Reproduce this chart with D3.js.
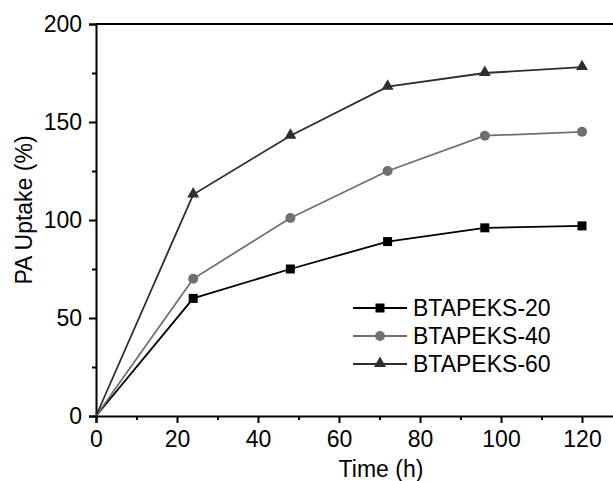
<!DOCTYPE html>
<meta charset="utf-8">
<style>
  body { margin: 0; background: #fff; }
  text { font-family: "Liberation Sans", Arial, sans-serif; }
</style>
<script src="https://d3js.org/d3.v7.min.js"></script>
<div id="chart"></div>
<script>
// Data
var hours = [0, 24, 48, 72, 96, 120];
var btapeks20 = [0, 60, 75, 89, 96, 97];
var btapeks40 = [0, 70, 101, 125, 143, 145];
var btapeks60 = [0, 113, 143, 168, 175, 178];
var seriesNames = ["BTAPEKS-20", "BTAPEKS-40", "BTAPEKS-60"];
var xTicks = [0, 20, 40, 60, 80, 100, 120];
var xMinor = [10, 30, 50, 70, 90, 110, 130];
var yTicks = [0, 50, 100, 150, 200];
var yMinor = [25, 75, 125, 175];

var W = 613, H = 481;
var plotLeft = 96, plotTop = 24, plotBottom = 416;
var fs = 23;

var svg = d3.select("#chart").append("svg")
  .attr("width", W).attr("height", H);

var x = d3.scaleLinear().domain([0, 130]).range([plotLeft, plotLeft + 130 * 4.05]);
var y = d3.scaleLinear().domain([0, 200]).range([plotBottom, plotTop]);

// top frame line
svg.append("line")
  .attr("x1", plotLeft).attr("x2", W + 5)
  .attr("y1", plotTop).attr("y2", plotTop)
  .attr("stroke", "#000").attr("stroke-width", 2);

// x axis
var gx = svg.append("g").attr("transform", "translate(0," + plotBottom + ")");
gx.call(d3.axisBottom(x).tickValues(xTicks).tickSize(7).tickPadding(8).tickFormat(d3.format("d")));
gx.append("g").call(d3.axisBottom(x).tickValues(xMinor).tickSize(4).tickFormat(""))
  .select(".domain").remove();

// y axis
var gy = svg.append("g").attr("transform", "translate(" + plotLeft + ",0)");
gy.call(d3.axisLeft(y).tickValues(yTicks).tickSize(7).tickPadding(7));
gy.append("g").call(d3.axisLeft(y).tickValues(yMinor).tickSize(4).tickFormat(""))
  .select(".domain").remove();

svg.selectAll(".domain").attr("stroke", "#000").attr("stroke-width", 2);
svg.selectAll(".tick line").attr("stroke", "#000").attr("stroke-width", 2);
svg.selectAll(".tick text").attr("font-size", fs).attr("fill", "#000")
  .attr("font-family", "Liberation Sans, Arial, sans-serif");

// axis titles
svg.append("text")
  .attr("x", 381).attr("y", 477)
  .attr("text-anchor", "middle").attr("font-size", fs)
  .text("Time (h)");
svg.append("text")
  .attr("transform", "translate(32,210) rotate(-90)")
  .attr("text-anchor", "middle").attr("font-size", fs)
  .text("PA Uptake (%)");

var series = [
  {name: seriesNames[0], values: btapeks20, color: "#000000", marker: "square"},
  {name: seriesNames[1], values: btapeks40, color: "#6f6f6f", marker: "circle"},
  {name: seriesNames[2], values: btapeks60, color: "#2e2e2e", marker: "triangle"}
];

var line = d3.line().x(d => x(d[0])).y(d => y(d[1]));

function drawMarker(g, type, cx, cy, color) {
  if (type === "square") {
    g.append("rect").attr("x", cx - 4.5).attr("y", cy - 4.5)
      .attr("width", 9).attr("height", 9).attr("fill", color);
  } else if (type === "circle") {
    g.append("circle").attr("cx", cx).attr("cy", cy).attr("r", 5).attr("fill", color);
  } else {
    g.append("path")
      .attr("d", d3.symbol().type(d3.symbolTriangle).size(62)())
      .attr("transform", "translate(" + cx + "," + (cy - 0.5) + ")")
      .attr("fill", color);
  }
}

series.forEach(function(s) {
  var pts = hours.map((h, i) => [h, s.values[i]]);
  svg.append("path").datum(pts)
    .attr("fill", "none").attr("stroke", s.color).attr("stroke-width", 1.8)
    .attr("d", line);
  var g = svg.append("g");
  pts.forEach(function(p, i) {
    if (i === 0) return;
    drawMarker(g, s.marker, x(p[0]), y(p[1]), s.color);
  });
});

// legend
var legend = svg.append("g");
series.forEach(function(s, i) {
  var ly = 308 + i * 28;
  legend.append("line")
    .attr("x1", 353).attr("x2", 407).attr("y1", ly).attr("y2", ly)
    .attr("stroke", s.color).attr("stroke-width", 1.8);
  drawMarker(legend, s.marker, 380, ly, s.color);
  legend.append("text")
    .attr("x", 413).attr("y", ly + 8)
    .attr("font-size", fs)
    .text(s.name);
});
</script>
